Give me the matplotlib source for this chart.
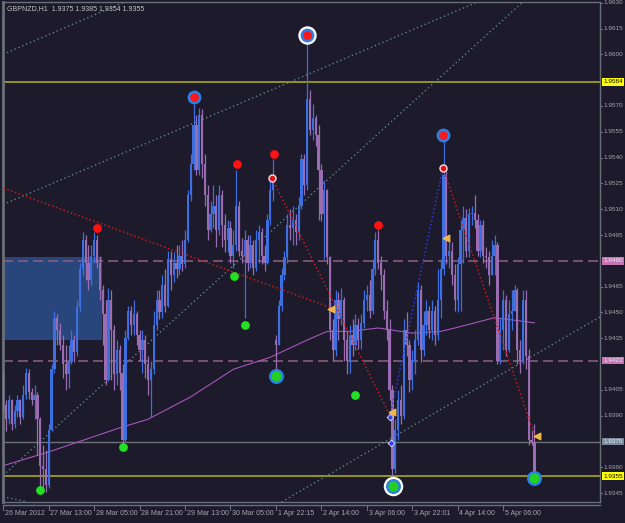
import matplotlib
matplotlib.use("Agg")
import matplotlib.pyplot as plt
from matplotlib.patches import Rectangle
from matplotlib.transforms import blended_transform_factory
import numpy as np

plt.rcParams["font.family"] = ["Liberation Sans", "DejaVu Sans"]

# ---------------- data ----------------
header_text = "GBPNZD,H1  1.9375 1.9385 1.9354 1.9355"

time_labels = ["26 Mar 2012", "27 Mar 13:00", "28 Mar 05:00", "28 Mar 21:00",
               "29 Mar 13:00", "30 Mar 05:00", "1 Apr 22:15", "2 Apr 14:00",
               "3 Apr 06:00", "3 Apr 22:01", "4 Apr 14:00", "5 Apr 06:00"]
time_label_bars = [0, 16, 32, 48, 64, 80, 96, 112, 128, 144, 160, 176]

price_ticks = [1.9630, 1.9615, 1.9600, 1.9570, 1.9555, 1.9540, 1.9525, 1.9510,
               1.9495, 1.9465, 1.9450, 1.9435, 1.9405, 1.9390, 1.9360, 1.9345]

first_open = 1.9411
gap_opens = {96: 1.9434}   # weekend gap open

closes = [
    1.9396, 1.9388, 1.9399, 1.9385, 1.9393, 1.9399, 1.9389, 1.9402, 1.9415, 1.9404,
    1.9399, 1.9402, 1.9388, 1.9361, 1.9359, 1.9350, 1.9382, 1.9417, 1.9447, 1.9440,
    1.9431, 1.9420, 1.9414, 1.9422, 1.9434, 1.9427, 1.9453, 1.9475, 1.9492, 1.9479,
    1.9469, 1.9483, 1.9492, 1.9479, 1.9463, 1.9449, 1.9411, 1.9457, 1.9440, 1.9414,
    1.9428, 1.9415, 1.9376, 1.9435, 1.9451, 1.9443, 1.9449, 1.9437, 1.9428, 1.9434,
    1.9420, 1.9411, 1.9417, 1.9443, 1.9457, 1.9450, 1.9466, 1.9454, 1.9481, 1.9472,
    1.9479, 1.9475, 1.9483, 1.9478, 1.9492, 1.9518, 1.9536, 1.9559, 1.9533, 1.9565,
    1.9536, 1.9518, 1.9498, 1.9507, 1.9512, 1.9498, 1.9518, 1.9501, 1.9492, 1.9499,
    1.9483, 1.9489, 1.9512, 1.9486, 1.9483, 1.9492, 1.9479, 1.9489, 1.9476, 1.9492,
    1.9497, 1.9483, 1.9479, 1.9504, 1.9521, 1.9527, 1.9431, 1.9454, 1.9472, 1.9482,
    1.9501, 1.9499, 1.9504, 1.9497, 1.9512, 1.9539, 1.9524, 1.9574, 1.9556, 1.9563,
    1.9553, 1.9533, 1.9507, 1.9521, 1.9482, 1.9440, 1.9428, 1.9457, 1.9446, 1.9457,
    1.9434, 1.9422, 1.9437, 1.9431, 1.9443, 1.9434, 1.9444, 1.9457, 1.9460, 1.9451,
    1.9475, 1.9492, 1.9479, 1.9472, 1.9451, 1.9440, 1.9405, 1.9359, 1.9382, 1.9399,
    1.9390, 1.9440, 1.9431, 1.9411, 1.9422, 1.9434, 1.9463, 1.9428, 1.9443, 1.9451,
    1.9440, 1.9451, 1.9437, 1.9457, 1.9475, 1.9530, 1.9483, 1.9486, 1.9472, 1.9457,
    1.9478, 1.9498, 1.9505, 1.9486, 1.9507, 1.9508, 1.9504, 1.9486, 1.9501, 1.9483,
    1.9482, 1.9472, 1.9483, 1.9489, 1.9422, 1.9440, 1.9457, 1.9428, 1.9449, 1.9451,
    1.9463, 1.9428, 1.9422, 1.9457, 1.9425, 1.9376, 1.9375, 1.9355]

highs = [
    1.9415, 1.9399, 1.9402, 1.9400, 1.9396, 1.9402, 1.9400, 1.9408, 1.9418, 1.9417,
    1.9406, 1.9408, 1.9404, 1.9389, 1.9373, 1.9370, 1.9385, 1.9420, 1.9451, 1.9449,
    1.9444, 1.9437, 1.9431, 1.9431, 1.9440, 1.9437, 1.9457, 1.9479, 1.9497, 1.9495,
    1.9489, 1.9489, 1.9497, 1.9495, 1.9483, 1.9466, 1.9457, 1.9464, 1.9463, 1.9443,
    1.9434, 1.9431, 1.9420, 1.9440, 1.9454, 1.9454, 1.9457, 1.9451, 1.9440, 1.9440,
    1.9437, 1.9425, 1.9422, 1.9451, 1.9463, 1.9463, 1.9472, 1.9475, 1.9486, 1.9486,
    1.9485, 1.9489, 1.9489, 1.9492, 1.9498, 1.9521, 1.9542, 1.9571, 1.9565, 1.9569,
    1.9568, 1.9542, 1.9524, 1.9515, 1.9524, 1.9518, 1.9524, 1.9521, 1.9507, 1.9504,
    1.9503, 1.9498, 1.9533, 1.9515, 1.9493, 1.9498, 1.9495, 1.9495, 1.9492, 1.9498,
    1.9501, 1.9499, 1.9489, 1.9507, 1.9527, 1.9539, 1.9437, 1.9457, 1.9476, 1.9486,
    1.9507, 1.9510, 1.9512, 1.9507, 1.9517, 1.9542, 1.9542, 1.9608, 1.9579, 1.9571,
    1.9565, 1.9559, 1.9536, 1.9527, 1.9522, 1.9483, 1.9446, 1.9463, 1.9462, 1.9464,
    1.9459, 1.9440, 1.9443, 1.9446, 1.9449, 1.9447, 1.9449, 1.9463, 1.9466, 1.9469,
    1.9481, 1.9497, 1.9498, 1.9483, 1.9475, 1.9457, 1.9446, 1.9408, 1.9388, 1.9405,
    1.9408, 1.9446, 1.9450, 1.9434, 1.9428, 1.9440, 1.9468, 1.9466, 1.9451, 1.9457,
    1.9454, 1.9457, 1.9454, 1.9475, 1.9481, 1.9550, 1.9534, 1.9492, 1.9491, 1.9478,
    1.9482, 1.9504, 1.9512, 1.9510, 1.9511, 1.9512, 1.9518, 1.9507, 1.9504, 1.9504,
    1.9488, 1.9486, 1.9492, 1.9495, 1.9491, 1.9447, 1.9463, 1.9460, 1.9457, 1.9463,
    1.9466, 1.9464, 1.9434, 1.9463, 1.9463, 1.9429, 1.9382, 1.9385]

lows = [
    1.9393, 1.9381, 1.9385, 1.9382, 1.9383, 1.9389, 1.9385, 1.9388, 1.9400, 1.9400,
    1.9396, 1.9388, 1.9367, 1.9347, 1.9348, 1.9346, 1.9348, 1.9381, 1.9415, 1.9431,
    1.9428, 1.9412, 1.9405, 1.9406, 1.9420, 1.9421, 1.9425, 1.9451, 1.9472, 1.9469,
    1.9463, 1.9466, 1.9479, 1.9476, 1.9457, 1.9431, 1.9408, 1.9410, 1.9411, 1.9405,
    1.9408, 1.9405, 1.9373, 1.9375, 1.9434, 1.9437, 1.9437, 1.9431, 1.9422, 1.9415,
    1.9412, 1.9402, 1.9389, 1.9414, 1.9440, 1.9446, 1.9447, 1.9450, 1.9453, 1.9463,
    1.9468, 1.9470, 1.9472, 1.9474, 1.9476, 1.9491, 1.9515, 1.9533, 1.9530, 1.9530,
    1.9528, 1.9512, 1.9492, 1.9497, 1.9499, 1.9488, 1.9495, 1.9488, 1.9485, 1.9485,
    1.9479, 1.9476, 1.9486, 1.9483, 1.9479, 1.9447, 1.9474, 1.9476, 1.9472, 1.9474,
    1.9479, 1.9478, 1.9474, 1.9478, 1.9501, 1.9515, 1.9415, 1.9431, 1.9451, 1.9469,
    1.9479, 1.9492, 1.9489, 1.9489, 1.9492, 1.9510, 1.9518, 1.9521, 1.9553, 1.9550,
    1.9547, 1.9504, 1.9503, 1.9481, 1.9478, 1.9434, 1.9422, 1.9425, 1.9434, 1.9443,
    1.9422, 1.9414, 1.9415, 1.9425, 1.9428, 1.9429, 1.9429, 1.9441, 1.9451, 1.9447,
    1.9449, 1.9472, 1.9475, 1.9463, 1.9446, 1.9434, 1.9399, 1.9354, 1.9357, 1.9376,
    1.9385, 1.9388, 1.9425, 1.9404, 1.9405, 1.9414, 1.9431, 1.9421, 1.9425, 1.9437,
    1.9435, 1.9434, 1.9431, 1.9434, 1.9447, 1.9472, 1.9478, 1.9476, 1.9466, 1.9451,
    1.9450, 1.9451, 1.9479, 1.9482, 1.9482, 1.9501, 1.9499, 1.9483, 1.9482, 1.9479,
    1.9476, 1.9466, 1.9472, 1.9472, 1.9420, 1.9420, 1.9428, 1.9425, 1.9427, 1.9440,
    1.9451, 1.9420, 1.9415, 1.9420, 1.9417, 1.9373, 1.9373, 1.9354]

# moving average (read at sample bars)
ma_bars = [0, 16, 41, 51, 66, 81, 94, 107, 114, 122, 132, 144, 154, 159, 166, 173, 187]
ma_values = [1.9361, 1.9369, 1.9383, 1.9388, 1.9401, 1.9417, 1.9424, 1.9434, 1.9439,
             1.9439, 1.9441, 1.9438, 1.9439, 1.9441, 1.9444, 1.9447, 1.9444]

# horizontal levels
yellow_levels = [1.9584, 1.9355]
dashed_levels = [1.9480, 1.9422]
gray_levels = [1.9375]

# supply zone box (bars, prices)
zone_bars = [-0.1, 34.8]
zone_prices = [1.9434, 1.9482]

# channel (trend) lines: pairs of (bar, price)
channel_lines = [
    ((-1.16, 1.9512), (166.4, 1.9630)),
    ((-0.1, 1.9600), (42.1, 1.9630)),
    ((2.36, 1.9359), (122.1, 1.9539)),
    ((98.1, 1.9340), (201.3, 1.9439)),
    ((-0.1, 1.9343), (8.3, 1.9340)),
]

# zigzag lines
red_zig = [[(-1.2, 1.9523), (115.0, 1.9453)],
           [(94.6, 1.9528), (136.2, 1.9390)],
           [(154.8, 1.9534), (187.2, 1.9378)]]
blue_zig = [[(136.2, 1.9390), (154.8, 1.9534)]]

# markers
top_rings_bars = [67.2, 107.0, 154.8]
top_rings_prices = [1.9575, 1.9611, 1.9553]
bottom_rings_bars = [96.0, 137.2, 186.9]
bottom_rings_prices = [1.9413, 1.9349, 1.9354]
white_ring_idx_top = [1]
white_ring_idx_bottom = [1]
red_dot_bars = [33.0, 82.3, 95.3, 132.0]
red_dot_prices = [1.9499, 1.9536, 1.9542, 1.9501]
red_white_bars = [94.6, 154.8]
red_white_prices = [1.9528, 1.9534]
green_dot_bars = [12.9, 42.2, 81.2, 85.1, 123.8]
green_dot_prices = [1.9347, 1.9372, 1.9471, 1.9443, 1.9402]
tri_bars = [115.4, 155.9, 136.9, 187.9]
tri_prices = [1.9452, 1.9493, 1.9392, 1.9378]
diamond_bars = [136.2, 136.5]
diamond_prices = [1.9389, 1.9374]

# price label boxes at right
box_labels = [("1.9584", 1.9584, "#ffff00", "#000000"),
              ("1.9480", 1.9480, "#c476b4", "#f4e4f4"),
              ("1.9422", 1.9422, "#c476b4", "#f4e4f4"),
              ("1.9375", 1.9375, "#7c8c9c", "#e8eef4"),
              ("1.9355", 1.9355, "#ffff00", "#000000")]

# ---------------- styling ----------------
BG = "#1c1a2b"
FRAME = "#6a7078"
TXT = "#a4a8ac"
UP = "#3d6fe0"
DN = "#9a6cb2"
FS = 4.6

fig = plt.figure(figsize=(6.25, 5.23), dpi=100, facecolor=BG)
ax = fig.add_axes([3 / 625, 1 - 502 / 523, 597 / 625, 500 / 523])
ax.set_facecolor(BG)
ax.set_xlim(-0.1, 210.1)
ax.set_ylim(1.93399, 1.96304)
ax.set_xticks([])
ax.set_yticks([])
for s in ax.spines.values():
    s.set_color(FRAME)
    s.set_linewidth(1)
ax.spines["left"].set_linewidth(2)

# zone
ax.add_patch(Rectangle((zone_bars[0], zone_prices[0]), zone_bars[1] - zone_bars[0],
                       zone_prices[1] - zone_prices[0], facecolor="#2a4a86",
                       edgecolor="none", alpha=0.9, zorder=1))

# horizontal levels
for lv in yellow_levels:
    ax.axhline(lv, color="#a8a818", lw=1.2, zorder=2)
for lv in dashed_levels:
    ax.axhline(lv, color="#8a5a7c", lw=1.2, dashes=(6, 3), zorder=2)
for lv in gray_levels:
    ax.axhline(lv, color="#6c7276", lw=1.0, zorder=2)

# channel lines
for p1, p2 in channel_lines:
    ax.axline(p1, p2, color="#5e8686", lw=1.0, linestyle=(0, (1, 2)), zorder=2)

# moving average
ax.plot(ma_bars, ma_values, color="#a656bc", lw=0.8, zorder=2.5)

# candles
opens = [first_open] + closes[:-1]
for k, v in gap_opens.items():
    opens[k] = v
o = np.array(opens)
c = np.array(closes)
h = np.maximum(np.array(highs), np.maximum(o, c))
l = np.minimum(np.array(lows), np.minimum(o, c))
idx = np.arange(len(c))
up = c > o
dn = ~up
ax.vlines(idx[up], l[up], h[up], color=UP, lw=0.9, zorder=3)
ax.vlines(idx[dn], l[dn], h[dn], color=DN, lw=0.9, zorder=3)
bh = np.maximum(np.abs(c - o), 0.00006)
ax.bar(idx[up], bh[up], bottom=np.minimum(o, c)[up], width=0.8, color=UP, lw=0, zorder=4)
ax.bar(idx[dn], bh[dn], bottom=np.minimum(o, c)[dn], width=0.8, color=DN, lw=0, zorder=4)

# zigzag
for seg in red_zig:
    xs, ys = zip(*seg)
    ax.plot(xs, ys, color="#c81c1c", lw=1.1, linestyle=(0, (1, 1.6)), zorder=5)
for seg in blue_zig:
    xs, ys = zip(*seg)
    ax.plot(xs, ys, color="#2a3ce0", lw=1.1, linestyle=(0, (1, 1.6)), zorder=5)

# markers
for i, (bx, py) in enumerate(zip(top_rings_bars, top_rings_prices)):
    if i in white_ring_idx_top:
        ax.scatter(bx, py, s=150, color="white", zorder=6)
    ax.scatter(bx, py, s=80, color="#2a80e8", zorder=7)
    ax.scatter(bx, py, s=28, color="#ff1818", zorder=8)
for i, (bx, py) in enumerate(zip(bottom_rings_bars, bottom_rings_prices)):
    if i in white_ring_idx_bottom:
        ax.scatter(bx, py, s=170, color="white", zorder=6)
    ax.scatter(bx, py, s=95, color="#2a80e8", zorder=7)
    ax.scatter(bx, py, s=40, color="#22d022", zorder=8)
ax.scatter(red_dot_bars, red_dot_prices, s=28, color="#ff1212", zorder=8)
ax.scatter(red_white_bars, red_white_prices, s=26, color="#f0d0d0", zorder=8)
ax.scatter(red_white_bars, red_white_prices, s=8, color="#e01010", zorder=9)
ax.scatter(green_dot_bars, green_dot_prices, s=28, color="#22e022", zorder=8)
ax.scatter(tri_bars, tri_prices, s=22, marker="<", color="#f0b848", zorder=8)
ax.scatter(diamond_bars, diamond_prices, s=12, marker="D", color="#3040ff",
           edgecolors="white", linewidths=0.5, zorder=8)

# header
ax.text(0.007, 0.993, header_text, transform=ax.transAxes, ha="left", va="top",
        fontsize=5.0, color="#c4c4c4", zorder=10)

# right price axis
tr = blended_transform_factory(ax.transAxes, ax.transData)
for p in price_ticks:
    ax.plot([1.0, 1.004], [p, p], transform=tr, color=FRAME, lw=0.8, clip_on=False)
    ax.text(1.0065, p, f"{p:.4f}", transform=tr, ha="left", va="center",
            fontsize=FS, color=TXT, clip_on=False)
for txt, p, fc, tc in box_labels:
    ax.text(1.0055, p, txt, transform=tr, ha="left", va="center", fontsize=FS,
            color=tc, clip_on=False, zorder=12,
            bbox=dict(boxstyle="square,pad=0.2", fc=fc, ec="none"))

# bottom time axis
trx = blended_transform_factory(ax.transData, ax.transAxes)
ax.plot([0, 1], [-0.006, -0.006], transform=ax.transAxes, color=FRAME, lw=1, clip_on=False)
for b, lab in zip(time_label_bars, time_labels):
    ax.plot([b, b], [-0.006, -0.016], transform=trx, color=FRAME, lw=0.8, clip_on=False)
    ax.text(b + 0.6, -0.023, lab, transform=trx, ha="left", va="center",
            fontsize=5.0, color=TXT, clip_on=False)

fig.savefig("out.png", dpi=100, facecolor=BG)
